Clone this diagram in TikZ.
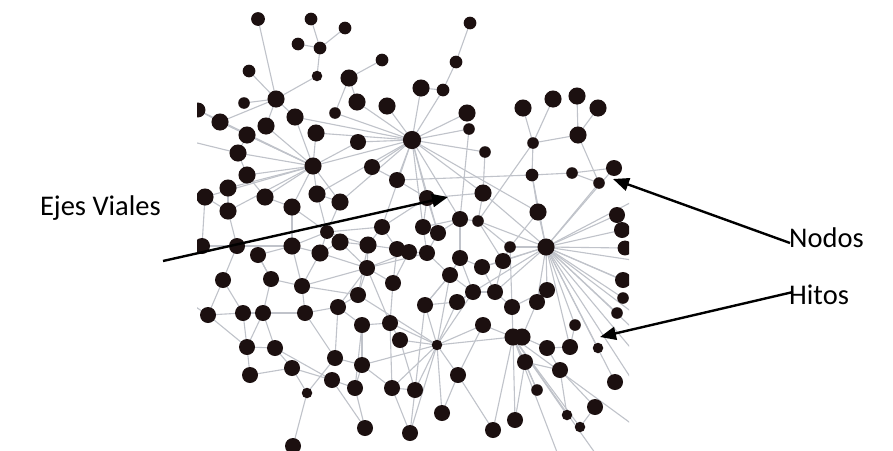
\documentclass[tikz,border=0pt]{standalone}
\usepackage{fontspec}
\setmainfont{Carlito}
\usetikzlibrary{arrows.meta}
\definecolor{dotcol}{RGB}{28,16,16}
\definecolor{linkcol}{RGB}{192,195,202}
\begin{document}
\begin{tikzpicture}[x=1pt,y=-1pt,
  dotnode/.style={circle,fill=dotcol,inner sep=0pt,minimum size=#1},
  link/.style={draw=linkcol,line width=1.1pt},
  pointer/.style={draw=black,line width=2.4pt,-{Triangle[length=16pt,width=13pt]}},
  lbl/.style={font=\fontsize{28.5}{34}\selectfont,inner sep=0pt,text=black}]
\useasboundingbox (0,0) rectangle (893,450);
\fill[white] (0,0) rectangle (893,450);
\def\dotlist{1/258/19/6,2/311/19/5.5,3/345/28/5.5,4/298/44/5.5,5/320/48/5.5,6/382/60/5.5,7/249/71/5.5,8/317/76/4.5,9/349/78/7.5,10/276/99/7.5,11/244/103/5,12/357/102/7.5,13/387/106/7.5,14/335/113/5,15/198/110/6.5,16/295/117/7.5,17/220/122/7.5,18/266/126/7.5,19/247/135/7.5,20/316/133/7.5,21/358/142/7,22/412/140/8,23/238/153/7.5,24/313/166/7.5,25/372/167/7,26/247/175/7.5,27/397/180/7,28/205/197/7.5,29/228/188/7.5,30/265/197/7.5,31/317/194/7.5,32/340/202/7.5,33/292/207/7.5,34/228/211/7.5,35/382/227/7,36/327/232/6,37/470/23/5.5,38/456/62/5.5,39/421/88/7.5,40/443/90/5.5,41/467/113/7.5,42/469/129/5,43/485/152/5,44/523/108/7.5,45/553/99/7.5,46/577/96/7.5,47/598/108/7.5,48/578/135/7.5,49/533/143/5,50/532/175/5.5,51/572/173/5,52/614/168/7,53/599/183/5,54/483/193/7.5,55/427/198/7,56/538/212/7.5,57/617/215/7,58/460/219/7,59/478/221/5,60/423/227/7,61/438/233/7,62/622/230/7,63/625/248/6.5,64/546/247/7.5,65/510/247/5,66/409/252/7,67/427/253/7,68/460/258/7,69/482/267/7,70/503/261/7,71/450/275/7,72/202/246/7,73/237/246/7,74/258/255/7,75/292/246/7.5,76/320/253/7.5,77/340/242/7.5,78/368/245/7.5,79/397/249/7,81/367/268/7,82/223/280/7,83/271/279/7,84/302/286/7,85/393/283/7,86/358/295/7,87/208/315/7,88/243/313/7,89/263/313/7,90/305/313/7,91/338/307/7,92/362/325/7,93/390/323/7,94/400/340/7,95/247/347/7,96/275/348/7,97/335/358/7,98/362/365/7,99/250/375/7,100/292/368/7,101/332/380/7,102/355/388/7,103/392/388/7,104/415/390/7,105/307/393/4.5,106/365/428/7,107/410/433/7,108/293/446/7,110/623/280/7,111/623/298/5,112/617/313/5,113/473/292/7,114/495/292/7,115/547/290/7,116/537/302/7,117/425/305/7,118/457/302/7,119/512/307/7,120/483/325/7,121/575/325/5,122/513/337/7.5,123/522/337/7.5,124/437/345/4.5,125/547/348/7,126/570/347/7,127/598/348/4.5,128/525/362/7,129/560/370/7,130/458/375/7,131/615/382/7,132/537/390/5,133/595/407/7,134/442/413/7,135/515/420/7,136/567/415/4.5,137/580/427/4.5,138/493/430/7}
\begin{scope}
\clip (197,6) rectangle (629,450);
\foreach \i/\x/\y/\rr in \dotlist { \coordinate (n\i) at (\x,\y); }
\coordinate (o1) at (645,195);
\coordinate (o2) at (645,262);
\coordinate (o3) at (645,290);
\coordinate (o4) at (645,340);
\coordinate (o5) at (645,365);
\coordinate (o6) at (645,400);
\coordinate (o7) at (600,460);
\coordinate (o8) at (560,460);
\coordinate (o9) at (185,140);
\coordinate (o10) at (185,230);
\coordinate (o11) at (185,300);
\coordinate (o12) at (645,322);
\coordinate (o13) at (640,430);
\foreach \a/\b in {1/10,2/5,3/5,4/5,5/8,8/10,7/10,11/10,10/16,10/18,10/17,15/17,9/6,9/12,9/14,14/22,12/22,13/22,16/24,18/24,17/24,19/24,20/24,15/24,23/24,26/24,29/24,28/24,30/24,21/24,25/22,21/22,20/22,16/22,24/22,27/22,31/22,32/22,55/22,39/22,40/22,41/22,42/22,43/22,54/22,56/22,37/38,38/40,40/39,42/58,43/54,44/49,45/49,46/48,47/48,48/49,48/53,49/59,49/50,50/56,50/51,51/52,51/53,27/50,52/64,53/64,50/64,56/64,57/64,62/64,63/64,110/64,111/64,112/64,121/64,126/64,127/64,131/64,115/64,65/64,70/64,54/64,59/64,24/31,24/33,24/34,31/36,33/36,36/35,35/22,35/55,24/32,30/33,29/34,28/34,72/73,73/75,74/75,75/76,76/77,77/78,78/79,79/66,66/67,67/61,61/60,60/55,36/76,36/75,36/77,33/75,34/73,28/72,82/73,83/74,84/75,84/76,85/79,86/78,81/78,81/85,81/86,81/76,81/77,81/84,81/91,81/93,81/66,81/67,82/87,82/88,87/88,88/89,89/90,83/89,84/90,90/91,91/92,92/93,93/94,94/124,87/95,88/95,95/96,96/100,89/96,90/97,97/98,98/102,101/102,100/101,99/100,95/99,97/105,105/108,100/105,101/106,102/106,103/107,104/107,103/104,98/103,92/98,124/117,124/118,124/104,124/103,124/130,124/134,124/120,124/122,124/86,124/93,124/98,124/107,124/71,124/113,68/71,69/70,68/69,70/65,113/114,114/119,119/122,113/118,117/71,71/113,116/115,115/119,116/123,122/123,120/122,123/125,125/126,122/128,128/129,129/133,122/135,122/136,122/137,122/138,122/132,130/138,130/134,128/132,129/136,126/121,116/64,114/64,69/64,113/64,58/61,58/60,58/68,59/65,59/70,54/59,54/55,55/61,22/60,22/61,22/58,27/55,25/27,31/32,32/36,35/79,35/78,36/78,84/86,86/91,85/93,85/66,67/71,71/117,117/118,118/113,68/113,69/114,70/114,65/119,56/65,58/59,60/67,30/26,19/23,23/26,74/83,83/84,89/95,96/101,91/97,92/102,93/103,94/104,117/104,120/130,128/135,133/137,125/129}
  \draw[link] (n\a) -- (n\b);
\foreach \a/\b in {64/o1,64/o2,64/o3,64/o4,64/o5,64/o6,64/o12,122/o7,122/o8,122/o13,23/o9,72/o10,87/o11}
  \draw[link] (n\a) -- (\b);
\foreach \i/\x/\y/\rr in \dotlist { \node[dotnode={2*(1.1*\rr+0.3)*1pt}] (d\i) at (n\i) {}; }
\end{scope}
\node[lbl,anchor=base east] (ejes) at (161,215) {Ejes Viales};
\node[lbl,anchor=base west] (nodos) at (789,247) {Nodos};
\node[lbl,anchor=base west] (hitos) at (789,304) {Hitos};
\coordinate (ejesS) at (163,261);
\coordinate (ejesT) at (448,197);
\coordinate (nodosS) at (790,243);
\coordinate (nodosT) at (613,179);
\coordinate (hitosS) at (793,292);
\coordinate (hitosT) at (600,337);
\draw[pointer] (ejesS) -- (ejesT);
\draw[pointer] (nodosS) -- (nodosT);
\draw[pointer] (hitosS) -- (hitosT);
\end{tikzpicture}
\end{document}
